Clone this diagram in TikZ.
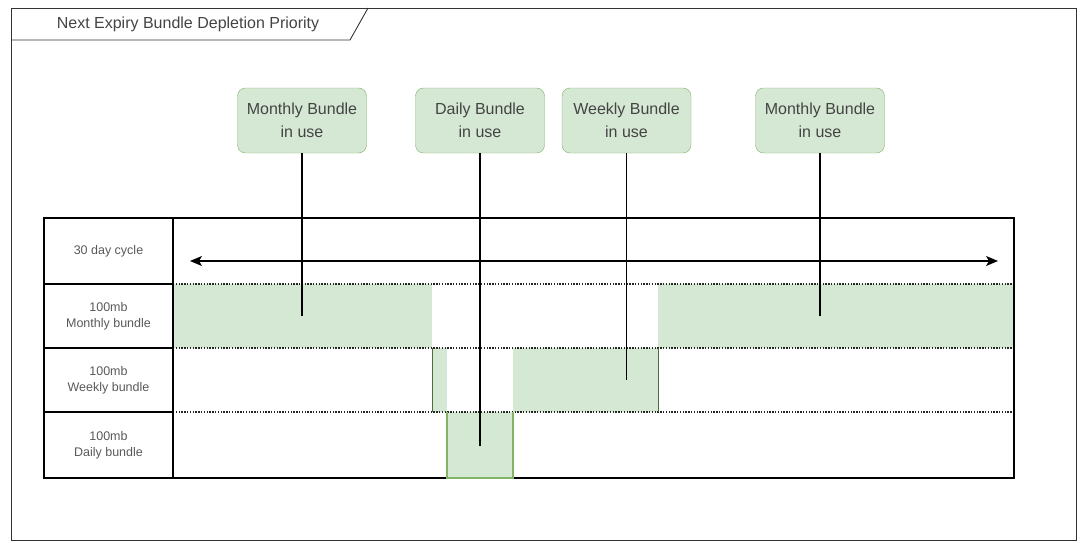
\documentclass[tikz,border=0pt]{standalone}
\usepackage{fontspec}
\setmainfont{Liberation Sans}
\usetikzlibrary{arrows.meta,positioning}
\definecolor{bundlefill}{HTML}{D5E8D4}
\definecolor{bundleline}{HTML}{82B366}
\definecolor{labeltext}{HTML}{444444}
\tikzstyle{bundle}=[fill=bundlefill]
\tikzstyle{usebox}=[draw=bundleline,fill=bundlefill,rounded corners=8pt,minimum width=129pt,minimum height=65pt,align=center,inner sep=0pt,text=labeltext,font=\fontsize{16}{23}\selectfont]
\tikzstyle{rowlabel}=[align=center,text=black!65,font=\fontsize{12.5}{16}\selectfont]
\tikzstyle{gridline}=[line width=1.3pt,dash pattern=on 1.3pt off 1.5pt,black!85]
\tikzstyle{pointer}=[line width=1.2pt]

\begin{document}
\begin{tikzpicture}[x=1pt,y=-1pt]
	\useasboundingbox (0,0) rectangle (1086,543);
	\draw[line width=0.9pt,black!80] (11,8) rectangle (1076,540);
	\draw[line width=0.9pt,black!80] (11,40) -- (350,40) -- (368,8);
	\node[text=labeltext,font=\fontsize{16}{18}\selectfont] (title) at (188,24) {Next Expiry Bundle Depletion Priority};
	\fill[bundle] (173,284) rectangle (432,348);
	\fill[bundle] (658,284) rectangle (1014,348);
	\fill[bundle] (432,348) rectangle (447,412);
	\fill[bundle] (513,348) rectangle (658,412);
	\fill[bundle] (447,412) rectangle (513,478);
	\foreach \y in {284,348,412}
		\draw[gridline] (173,\y) -- (1014,\y);
	\draw[line width=1.2pt] (44,218) rectangle (1014,478);
	\foreach \y in {284,348,412}
		\draw[line width=1.2pt] (44,\y) -- (173,\y);
	\draw[line width=1.2pt] (173,218) -- (173,478);
	\draw[line width=1pt,bundleline!60!black] (432,348) -- (432,412);
	\draw[line width=1pt,bundleline!60!black] (658,348) -- (658,412);
	\draw[line width=1.2pt,bundleline] (447,412) -- (447,478) -- (513,478) -- (513,412);
	\node[rowlabel] (cycle) at (108.5,251) {30 day cycle};
	\node[rowlabel] (monthlyrow) at (108.5,316) {100mb\\Monthly bundle};
	\node[rowlabel] (weeklyrow) at (108.5,380) {100mb\\Weekly bundle};
	\node[rowlabel] (dailyrow) at (108.5,445) {100mb\\Daily bundle};
	\coordinate (cyclestart) at (190,261);
	\coordinate (cycleend) at (998,261);
	\draw[line width=1.2pt,{Stealth[length=12pt,width=10pt,inset=3pt]}-{Stealth[length=12pt,width=10pt,inset=3pt]}] (cyclestart) -- (cycleend);
	\node[usebox] (monthlyA) at (302,120.5) {Monthly Bundle\\in use};
	\node[usebox] (daily) at (480,120.5) {Daily Bundle\\in use};
	\node[usebox] (weekly) at (626.5,120.5) {Weekly Bundle\\in use};
	\node[usebox] (monthlyB) at (820,120.5) {Monthly Bundle\\in use};
	\coordinate (monthlyAend) at (302,316);
	\coordinate (dailyend) at (480,446);
	\coordinate (weeklyend) at (626.5,380);
	\coordinate (monthlyBend) at (820,316);
	\draw[pointer] (monthlyA) -- (monthlyAend);
	\draw[pointer] (daily) -- (dailyend);
	\draw[pointer] (weekly) -- (weeklyend);
	\draw[pointer] (monthlyB) -- (monthlyBend);
\end{tikzpicture}
\end{document}
